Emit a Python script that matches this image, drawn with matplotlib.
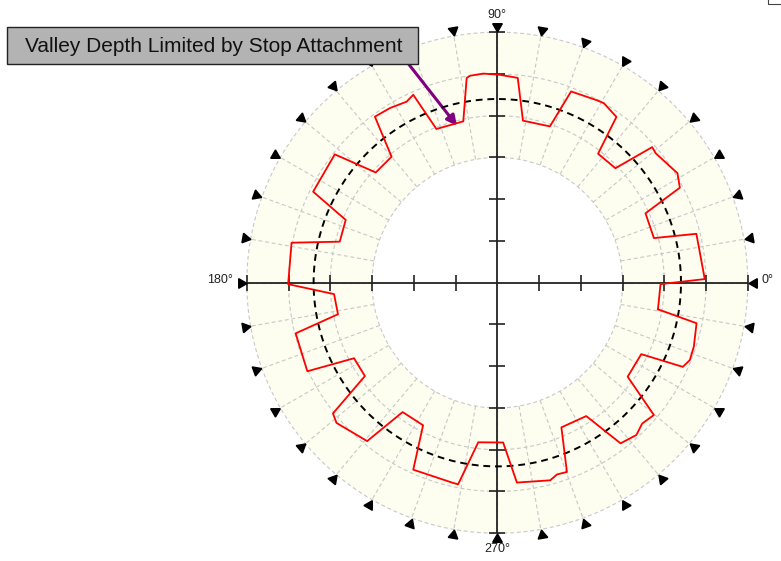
import numpy as np
import matplotlib
matplotlib.use('Agg')
import matplotlib.pyplot as plt
from matplotlib.patches import Rectangle
from matplotlib.lines import Line2D

plt.rcParams['font.family'] = ['Liberation Sans', 'DejaVu Sans']

# measured gear profile, angle in degrees and radius in chart units
profile_angle = [-9.4, -0.5, 1.0, 13.8, 15.9, 25.1, 27.5, 31.3, 33.8, 39.3,
                 41.2, 44.1, 52.0, 54.3, 59.3, 61.3, 68.9, 71.4, 81.0, 84.3,
                 89.3, 93.8, 97.5, 98.5, 101.9, 106.1, 111.6, 114.1, 116.6, 121.6,
                 126.4, 130.0, 137.8, 141.7, 153.7, 157.5, 165.4, 169.0, 180.4, 184.0,
                 191.2, 194.1, 205.0, 207.8, 215.2, 218.5, 221.1, 230.6, 233.8, 242.5,
                 245.8, 257.4, 259.0, 263.2, 272.1, 275.6, 285.0, 287.3, 290.2, 293.9,
                 303.7, 307.5, 312.4, 315.8, 319.8, 324.2, 333.6, 335.6, 338.1, 342.0,
                 348.5]
profile_radius = [3.90, 3.91, 4.97, 4.91, 3.90, 3.92, 4.93, 5.05, 4.99, 4.90,
                  4.93, 3.94, 3.92, 4.89, 5.00, 4.98, 4.91, 3.95, 3.93, 4.93,
                  4.98, 5.02, 5.00, 4.96, 3.95, 3.94, 3.96, 4.93, 4.85, 4.91,
                  4.94, 3.94, 3.93, 4.96, 4.92, 3.93, 3.90, 5.02, 5.01, 3.92,
                  3.89, 4.98, 5.02, 3.88, 3.88, 5.03, 5.11, 4.91, 3.84, 3.85,
                  4.91, 4.91, 4.92, 3.85, 3.83, 4.81, 4.90, 4.81, 4.83, 3.79,
                  3.84, 4.85, 4.94, 4.84, 4.91, 3.85, 3.85, 4.88, 4.97, 4.95,
                  4.87]

reference_radius = 4.4
ring_inner = 3
ring_outer = 6
ring_circles = [3, 4, 5, 6]
spoke_angles = list(range(0, 360, 10))
marker_angles = list(range(0, 360, 10))
axis_ticks = [1, 2, 3, 4, 5, 6]

note_text = 'Valley Depth Limited by Stop Attachment'
note_angle = 104.4
note_radius = 3.88

W, H = 781, 561
fig = plt.figure(figsize=(W / 100, H / 100), dpi=100)
ax = fig.add_axes([246.8 / W, 27.8 / H, 501 / W, 501 / H], projection='polar')
ax.set_ylim(0, ring_outer)
ax.set_xticks([])
ax.set_yticks([])
ax.grid(False)
ax.spines['polar'].set_visible(False)

grid_col = '#c8c8c8'
axis_col = '#222222'
theta_full = np.linspace(0, 2 * np.pi, 721)

# shaded ring
ax.bar(0, ring_outer - ring_inner, width=2 * np.pi, bottom=ring_inner,
       color='#fdfdf0', edgecolor='none', zorder=0)

# dashed grid inside the ring
for r in ring_circles:
    ax.plot(theta_full, np.full_like(theta_full, r), color=grid_col, lw=0.8,
            ls=(0, (3.5, 2.5)), clip_on=False, zorder=1)
ax.vlines(np.deg2rad(spoke_angles), ring_inner, ring_outer, colors=grid_col,
          lw=0.8, linestyles=[(0, (3.5, 2.5))], zorder=1)

# cross axes with ticks
ax.vlines(np.deg2rad([0, 90, 180, 270]), 0, ring_outer, colors=axis_col,
          lw=1.3, zorder=3, clip_on=False)
for a in [0, 180]:
    ax.plot(np.full(len(axis_ticks), np.deg2rad(a)), axis_ticks, ls='none',
            marker='|', ms=11.5, mew=1.2, color=axis_col, clip_on=False, zorder=3)
for a in [90, 270]:
    ax.plot(np.full(len(axis_ticks), np.deg2rad(a)), axis_ticks, ls='none',
            marker='_', ms=11.5, mew=1.2, color=axis_col, clip_on=False, zorder=3)

# reference circle and measured profile
ax.plot(theta_full, np.full_like(theta_full, reference_radius), color='black',
        lw=1.4, ls=(0, (3.5, 2.5)), zorder=4)
th = np.deg2rad(profile_angle + [profile_angle[0] + 360])
rr = profile_radius + [profile_radius[0]]
ax.plot(th, rr, color='red', lw=1.3, zorder=5)

# inward pointing markers round the rim
for a in marker_angles:
    ax.plot(np.deg2rad(a), 6.14, marker=(3, 0, a + 90), ms=8, color='black',
            ls='none', clip_on=False, zorder=6)

ax.text(0, 6.32, '0°', ha='left', va='baseline', fontsize=9, color=axis_col)
ax.text(np.pi / 2, 6.34, '90°', ha='center', va='baseline', fontsize=9, color=axis_col)
ax.text(np.pi, 6.34, '180°', ha='right', va='baseline', fontsize=9, color=axis_col)
ax.text(3 * np.pi / 2, 6.24, '270°', ha='center', va='top', fontsize=9, color=axis_col)

# note box and arrow
fig.add_artist(Rectangle((7 / W, 1 - 64 / H), 411 / W, 37 / H, transform=fig.transFigure,
                         facecolor='#b3b3b3', edgecolor='#222222', lw=1, zorder=10))
fig.text(213.3 / W, 1 - 52.3 / H, note_text, ha='center', va='baseline',
         fontsize=15, color='#111111', zorder=11)
ax.annotate('', xy=(np.deg2rad(note_angle), note_radius), xytext=(407 / W, 1 - 62 / H),
            textcoords='figure fraction', annotation_clip=False,
            arrowprops=dict(arrowstyle='-|>,head_length=0.6,head_width=0.3',
                            color='#800080', lw=2.2, shrinkA=0, shrinkB=0))

fig.add_artist(Line2D([767.5 / W, 767.5 / W, 1.0], [1.0, 1 - 4 / H, 1 - 4 / H],
                      transform=fig.transFigure, color='#444444', lw=0.8))

plt.savefig('out.png', dpi=100)
